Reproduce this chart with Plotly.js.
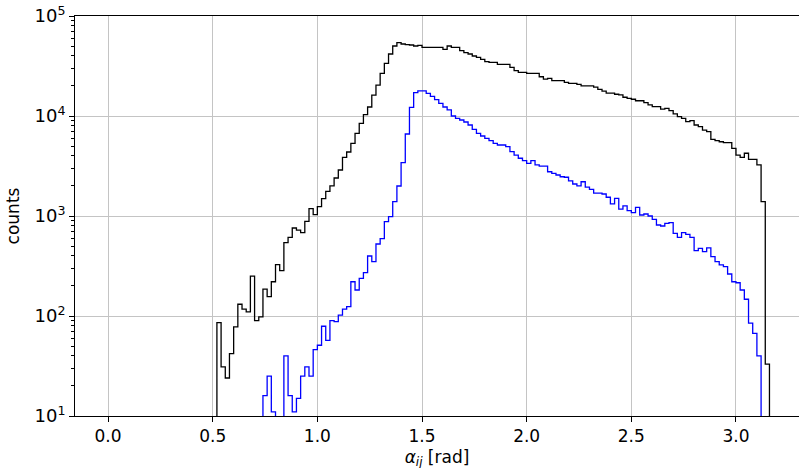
<!DOCTYPE html>
<html>
<head>
<meta charset="utf-8">
<script src="https://cdn.plot.ly/plotly-3.0.1.min.js"></script>
<style>html,body{margin:0;padding:0;background:#fff;}#chart{width:799px;height:468px;}</style>
</head>
<body>
<div id="chart"></div>
<script>
// Histogram bin width (rad) and first bin left edges
const binWidth = 0.02;
const blackFirstEdge = 0.52;
const blueFirstEdge = 0.74;

// Counts per bin (black histogram), starting at blackFirstEdge
const blackCounts = [
  86, 31, 24, 42, 78, 131, 117, 110, 251, 90,
  98, 186, 156, 220, 326, 284, 541, 612, 759, 724,
  681, 885, 1183, 1031, 1240, 1489, 1766, 2000, 2400, 2884,
  3863, 4365, 5333, 6714, 8453, 10300, 12300, 16200, 20400, 26700,
  33600, 41700, 50100, 54100, 52500, 51700, 51300, 50100, 50900, 48600,
  48600, 48600, 48600, 48600, 46400, 50100, 48600, 48600, 45000, 43000,
  41700, 39800, 38600, 36900, 34900, 34400, 34400, 32900, 32900, 32900,
  30700, 28400, 27300, 27300, 26700, 26700, 26700, 24700, 23400, 23800,
  22600, 22600, 22600, 21700, 21200, 21200, 20700, 20000, 20000, 20000,
  19400, 18500, 17700, 16900, 16900, 16500, 16300, 15400, 15000, 14700,
  14200, 14200, 13600, 12900, 12400, 12400, 11700, 11900, 11300, 10500,
  9850, 9480, 8770, 8980, 8130, 7820, 7240, 6970, 5840, 5670,
  5530, 5410, 5410, 4750, 4070, 3860, 4240, 3690, 3690, 3240,
  1390, 33
];

// Counts per bin (blue histogram), starting at blueFirstEdge
const blueCounts = [
  16, 25, 11, 0, 0, 40, 16, 11, 15, 25,
  31, 25, 46, 51, 79, 57, 90, 88, 102, 117,
  124, 220, 182, 238, 271, 398, 349, 525, 593, 877,
  985, 1390, 1995, 3410, 6610, 12200, 17100, 17800, 17800, 16800,
  15700, 14600, 13400, 12300, 11500, 10000, 9480, 9120, 8710, 8130,
  7360, 6710, 6310, 5980, 5670, 5330, 5130, 5130, 4940, 4400,
  4070, 3780, 3580, 3360, 3580, 3240, 3160, 3160, 2770, 2670,
  2570, 2470, 2440, 2250, 2090, 2000, 2200, 1940, 1850, 1690,
  1690, 1660, 1540, 1320, 1500, 1170, 1260, 1130, 1080, 1220,
  1023, 1047, 1000, 926, 813, 794, 845, 857, 671, 612,
  681, 656, 612, 450, 475, 440, 480, 392, 349, 324,
  311, 263, 220, 215, 182, 147, 85, 67, 40
];

// Tick labels
const xTickVals = [0.0, 0.5, 1.0, 1.5, 2.0, 2.5, 3.0];
const yTickVals = [10, 100, 1000, 10000, 100000];
const yTickText = ['10<sup>1</sup>', '10<sup>2</sup>', '10<sup>3</sup>', '10<sup>4</sup>', '10<sup>5</sup>'];

// Minor tick positions on the log axis (2..9 x each decade)
const yMinorVals = [];
for (let d = 10; d < 100000; d *= 10) {
  for (let m = 2; m <= 9; m++) yMinorVals.push(m * d);
}

const FLOOR = 1; // zero counts drawn below the visible log range

function stepTrace(firstEdge, counts, color) {
  const xs = [firstEdge], ys = [FLOOR];
  counts.forEach((c, i) => {
    xs.push(firstEdge + i * binWidth);
    ys.push(c > 0 ? c : FLOOR);
  });
  const lastEdge = firstEdge + counts.length * binWidth;
  const last = counts[counts.length - 1];
  xs.push(lastEdge); ys.push(last > 0 ? last : FLOOR);
  xs.push(lastEdge); ys.push(FLOOR);
  return {
    x: xs, y: ys, type: 'scatter', mode: 'lines',
    line: {shape: 'hv', color: color, width: 1.3},
    hoverinfo: 'skip', showlegend: false
  };
}

const traces = [
  stepTrace(blackFirstEdge, blackCounts, 'black'),
  stepTrace(blueFirstEdge, blueCounts, 'blue')
];

const pxPerUnit = 209.3;
const plotWidth = 799 - 75;
const xMin = -0.158;
const xMax = xMin + plotWidth / pxPerUnit;

const layout = {
  width: 799, height: 468,
  margin: {l: 75, r: 0, t: 16, b: 52, pad: 0},
  paper_bgcolor: '#fff', plot_bgcolor: '#fff',
  font: {family: 'DejaVu Sans', size: 17, color: 'black'},
  xaxis: {
    range: [xMin, xMax], tickvals: xTickVals, tickformat: '.1f',
    ticks: 'outside', ticklen: 5, tickwidth: 1, tickcolor: 'black',
    tickfont: {size: 17},
    showline: true, linecolor: 'black', linewidth: 1, mirror: true,
    showgrid: true, gridcolor: '#c4c4c4', gridwidth: 1, zeroline: false,
    title: {text: '<i>α</i><sub><i>ij</i></sub> [rad]', font: {size: 17}}
  },
  yaxis: {
    type: 'log', range: [1, 5], tickvals: yTickVals, ticktext: yTickText,
    ticks: 'outside', ticklen: 5, tickwidth: 1, tickcolor: 'black',
    tickfont: {size: 18},
    showline: true, linecolor: 'black', linewidth: 1, mirror: false,
    showgrid: true, gridcolor: '#c4c4c4', gridwidth: 1, zeroline: false,
    title: {text: 'counts', font: {size: 17}, standoff: 10}
  },
  // overlay axis carrying only the minor log ticks
  yaxis2: {
    type: 'log', range: [1, 5], overlaying: 'y', side: 'left',
    tickmode: 'array', tickvals: yMinorVals, showticklabels: false,
    ticks: 'outside', ticklen: 3, tickwidth: 1, tickcolor: 'black',
    showgrid: false, zeroline: false, showline: false
  }
};

// invisible trace anchoring the minor-tick axis
traces.push({x: [xMin], y: [10], yaxis: 'y2', type: 'scatter', mode: 'markers',
  marker: {opacity: 0}, hoverinfo: 'skip', showlegend: false});

Plotly.newPlot('chart', traces, layout, {staticPlot: true, displayModeBar: false}).then(() => {
  // nudge x-axis title slightly lower, as in the reference
  const t = document.querySelector('.g-xtitle text');
  if (t) {
    const y = parseFloat(t.getAttribute('y'));
    t.setAttribute('y', y + 1.5);
  }
});
</script>
</body>
</html>
